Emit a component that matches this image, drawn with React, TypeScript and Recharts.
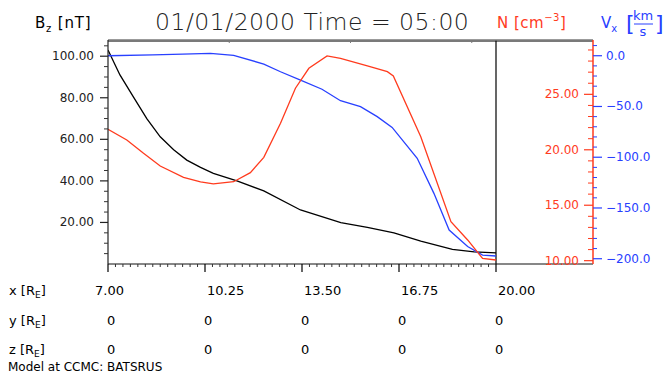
import React from 'react';
import { LineChart, Line, XAxis, YAxis, ReferenceLine } from 'recharts';

// ---------- data ----------
const bzX = [7.0, 7.4, 7.85, 8.3, 8.75, 9.2, 9.64, 10.1, 10.53, 11.32, 12.22, 13.45, 14.8, 15.69, 16.58, 17.48, 18.54, 19.27, 20.0];
const bzVals = [103.0, 91.0, 80.4, 70.0, 61.2, 55.0, 50.0, 46.5, 43.6, 40.0, 35.2, 26.0, 19.9, 17.6, 15.0, 11.0, 7.0, 5.8, 5.4];

const nX = [7.0, 7.63, 8.19, 8.75, 9.53, 10.1, 10.53, 11.21, 11.77, 12.22, 12.78, 13.28, 13.73, 14.34, 14.79, 15.69, 16.36, 16.56, 17.48, 18.49, 19.05, 19.55, 20.0];
const nVals = [21.85, 20.88, 19.68, 18.54, 17.52, 17.1, 16.92, 17.12, 17.94, 19.32, 22.39, 25.55, 27.35, 28.46, 28.25, 27.56, 27.04, 26.65, 21.18, 13.52, 11.87, 10.2, 10.06];

const vxX = [7.0, 8.5, 9.5, 10.43, 11.21, 12.22, 12.78, 13.45, 14.17, 14.79, 15.46, 16.02, 16.52, 17.36, 17.92, 18.43, 19.05, 19.55, 20.0];
const vxVals = [0.0, 0.8, 1.6, 2.4, 0.4, -8.2, -15.8, -24.0, -33.0, -44.3, -50.2, -60.0, -70.6, -101.0, -135.6, -171.7, -188.0, -196.4, -197.3];

// ---------- ticks / labels ----------
const xMajorTicks = [7, 10.25, 13.5, 16.75, 20];
const xTickLabels = ['7.00', '10.25', '13.50', '16.75', '20.00'];
const yRowLabels = ['0', '0', '0', '0', '0'];
const zRowLabels = ['0', '0', '0', '0', '0'];

const bzMajorTicks = [20, 40, 60, 80, 100];
const bzTickLabels = ['20.00', '40.00', '60.00', '80.00', '100.00'];
const nMajorTicks = [10, 15, 20, 25];
const nTickLabels = ['10.00', '15.00', '20.00', '25.00'];
const vxMajorTicks = [0, -50, -100, -150, -200];
const vxTickLabels = ['0.0', '\u221250.0', '\u2212100.0', '\u2212150.0', '\u2212200.0'];

const X_DOMAIN: [number, number] = [7, 23.25];
const BZ_DOMAIN: [number, number] = [0, 107.8];
const N_DOMAIN: [number, number] = [9.7, 29.9];
const VX_DOMAIN: [number, number] = [-205.2, 15.5];

// top frame divisions (4 equal parts of the x range)
const topTickXs = [1, 2, 3].map((k) => X_DOMAIN[0] + ((X_DOMAIN[1] - X_DOMAIN[0]) * k) / 4);

const range = (a: number, b: number, step: number) => {
  const out: number[] = [];
  const n = Math.round((b - a) / step);
  for (let i = 0; i <= n; i++) out.push(+(a + i * step).toFixed(4));
  return out;
};
const xTicksAll = range(7, 20, 0.25);
const bzTicksAll = range(5, 105, 5);
const nTicksAll = range(10, 29, 1);
const vxTicksAll = range(-200, 10, 10);

const RED = '#ff3b1e';
const BLUE = '#2840ff';
const FONT = "'DejaVu Sans', sans-serif";

const idx = (arr: number[], v: number) => arr.findIndex((t) => Math.abs(t - v) < 1e-6);

const bzData = bzX.map((x, i) => ({ x, v: bzVals[i] }));
const nData = nX.map((x, i) => ({ x, v: nVals[i] }));
const vxData = vxX.map((x, i) => ({ x, v: vxVals[i] }));
// plot frame top edge, just inside the top of the Bz range so it is not clipped
const frameTopValue = BZ_DOMAIN[1] - 0.5;
const frameTop = [
  { x: X_DOMAIN[0], v: frameTopValue },
  { x: X_DOMAIN[1], v: frameTopValue },
];

const XTick = (props: any) => {
  const { x, y, payload } = props;
  const i = idx(xMajorTicks, payload.value);
  if (i < 0) return <line x1={x} x2={x} y1={y} y2={y + 3} stroke="#333" strokeWidth={1} />;
  const lx = i === 0 ? x - 13 : x + 2;
  return (
    <g>
      <line x1={x} x2={x} y1={y} y2={y + 8} stroke="#000" strokeWidth={1.2} />
      <text x={lx} y={y + 31} fontSize={13} fill="#000" fontFamily={FONT}>{xTickLabels[i]}</text>
      <text x={x - 1} y={y + 61} fontSize={13} fill="#000" fontFamily={FONT}>{yRowLabels[i]}</text>
      <text x={x - 1} y={y + 90} fontSize={13} fill="#000" fontFamily={FONT}>{zRowLabels[i]}</text>
    </g>
  );
};

const TopTick = (props: any) => {
  const { x, y } = props;
  return <line x1={x} x2={x} y1={y} y2={y + 3} stroke="#7a7a7a" strokeWidth={1} />;
};

const BzTick = (props: any) => {
  const { x, y, payload } = props;
  const i = idx(bzMajorTicks, payload.value);
  if (i < 0) return <line x1={x - 4} x2={x} y1={y} y2={y} stroke="#333" strokeWidth={1} />;
  return (
    <g>
      <line x1={x - 8} x2={x} y1={y} y2={y} stroke="#222" strokeWidth={1.2} />
      <text x={x - 14} y={y + 4} textAnchor="end" fontSize={12} fill="#222" fontFamily={FONT}>{bzTickLabels[i]}</text>
    </g>
  );
};

const NTick = (props: any) => {
  const { x, y, payload } = props;
  const i = idx(nMajorTicks, payload.value);
  if (i < 0) return <line x1={x - 5} x2={x} y1={y} y2={y} stroke={RED} strokeWidth={1} />;
  return (
    <g>
      <line x1={x - 9} x2={x} y1={y} y2={y} stroke={RED} strokeWidth={1.2} />
      <text x={x - 14} y={y + 4} textAnchor="end" fontSize={12} fill={RED} fontFamily={FONT}>{nTickLabels[i]}</text>
    </g>
  );
};

const VxTick = (props: any) => {
  const { x, y, payload } = props;
  const i = idx(vxMajorTicks, payload.value);
  if (i < 0) return <line x1={x} x2={x + 4} y1={y} y2={y} stroke={BLUE} strokeWidth={1} />;
  return (
    <g>
      <line x1={x} x2={x + 9} y1={y} y2={y} stroke={BLUE} strokeWidth={1.2} />
      <text x={x + 13} y={y + 4} textAnchor="start" fontSize={12} fill={BLUE} fontFamily={FONT}>{vxTickLabels[i]}</text>
    </g>
  );
};

export default function App() {
  return (
    <div style={{ position: 'absolute', left: 0, top: 0, width: 672, height: 373, background: '#fff', fontFamily: FONT }}>
      <LineChart width={672} height={373} margin={{ top: 30, right: 0, bottom: 49, left: 0 }}>
        <XAxis
          xAxisId={0}
          dataKey="x"
          type="number"
          domain={X_DOMAIN}
          allowDataOverflow
          ticks={xTicksAll}
          interval={0}
          height={60}
          tickSize={0}
          tickMargin={0}
          tickLine={false}
          axisLine={{ stroke: '#111', strokeWidth: 1.2 }}
          tick={<XTick />}
        />
        <XAxis
          xAxisId="top"
          dataKey="x"
          orientation="top"
          type="number"
          domain={X_DOMAIN}
          allowDataOverflow
          ticks={topTickXs}
          interval={0}
          height={10}
          tickSize={0}
          tickMargin={0}
          tickLine={false}
          axisLine={{ stroke: '#7a7a7a', strokeWidth: 1.6 }}
          tick={<TopTick />}
        />
        <YAxis
          yAxisId="bz"
          orientation="left"
          type="number"
          domain={BZ_DOMAIN}
          allowDataOverflow
          ticks={bzTicksAll}
          interval={0}
          width={108}
          tickSize={0}
          tickMargin={0}
          tickLine={false}
          axisLine={{ stroke: '#222', strokeWidth: 1.2 }}
          tick={<BzTick />}
        />
        <YAxis
          yAxisId="n"
          orientation="right"
          mirror
          type="number"
          domain={N_DOMAIN}
          allowDataOverflow
          ticks={nTicksAll}
          interval={0}
          width={1}
          tickSize={0}
          tickMargin={0}
          tickLine={false}
          axisLine={{ stroke: RED, strokeWidth: 1.5 }}
          tick={<NTick />}
        />
        <YAxis
          yAxisId="vx"
          orientation="right"
          type="number"
          domain={VX_DOMAIN}
          allowDataOverflow
          ticks={vxTicksAll}
          interval={0}
          width={79}
          tickSize={0}
          tickMargin={0}
          tickLine={false}
          axisLine={false}
          tick={<VxTick />}
        />
        <Line xAxisId="top" yAxisId="bz" data={frameTop} dataKey="v" type="linear" stroke="#7a7a7a" strokeWidth={2} dot={false} isAnimationActive={false} />
        <ReferenceLine xAxisId={0} yAxisId="bz" x={20} stroke="#000" strokeWidth={1.2} ifOverflow="visible" />
        <Line xAxisId={0} yAxisId="bz" data={bzData} dataKey="v" type="linear" stroke="#000" strokeWidth={1.3} dot={false} isAnimationActive={false} />
        <Line xAxisId={0} yAxisId="vx" data={vxData} dataKey="v" type="linear" stroke={BLUE} strokeWidth={1.3} dot={false} isAnimationActive={false} />
        <Line xAxisId={0} yAxisId="n" data={nData} dataKey="v" type="linear" stroke={RED} strokeWidth={1.3} dot={false} isAnimationActive={false} />
      </LineChart>
      <svg width={672} height={373} style={{ position: 'absolute', left: 0, top: 0, pointerEvents: 'none' }}>
        <g fontFamily={FONT}>
          <text x={35} y={28} fontSize={15} fill="#000" letterSpacing={0.8}>
            B<tspan fontSize={10} dy={4}>z</tspan><tspan dy={-4}> [nT]</tspan>
          </text>
          <text x={155} y={30} fontSize={23.5} fill="#222" letterSpacing={0.5} fontWeight={300}>01/01/2000 Time = 05:00</text>
          <text x={497} y={28} fontSize={15} fill={RED} letterSpacing={0.5}>
            N [cm<tspan fontSize={10} dy={-7}>{'\u22123'}</tspan><tspan dy={7}>]</tspan>
          </text>
          <text x={601} y={28} fontSize={15} fill={BLUE}>
            V<tspan fontSize={10} dy={4}>x</tspan>
          </text>
          <text x={626} y={31} fontSize={22} fill={BLUE}>[</text>
          <text x={643} y={20} fontSize={13} fill={BLUE} textAnchor="middle">km</text>
          <line x1={634} x2={653} y1={24} y2={24} stroke={BLUE} strokeWidth={1} />
          <text x={643} y={36} fontSize={13} fill={BLUE} textAnchor="middle">s</text>
          <text x={655} y={31} fontSize={22} fill={BLUE}>]</text>

          <text x={9} y={295} fontSize={13} fill="#000">
            x [R<tspan fontSize={9} dy={3}>E</tspan><tspan dy={-3}>]</tspan>
          </text>
          <text x={9} y={325} fontSize={13} fill="#000">
            y [R<tspan fontSize={9} dy={3}>E</tspan><tspan dy={-3}>]</tspan>
          </text>
          <text x={9} y={354} fontSize={13} fill="#000">
            z [R<tspan fontSize={9} dy={3}>E</tspan><tspan dy={-3}>]</tspan>
          </text>
          <text x={8} y={371} fontSize={12} fill="#000">Model at CCMC: BATSRUS</text>
        </g>
      </svg>
    </div>
  );
}
